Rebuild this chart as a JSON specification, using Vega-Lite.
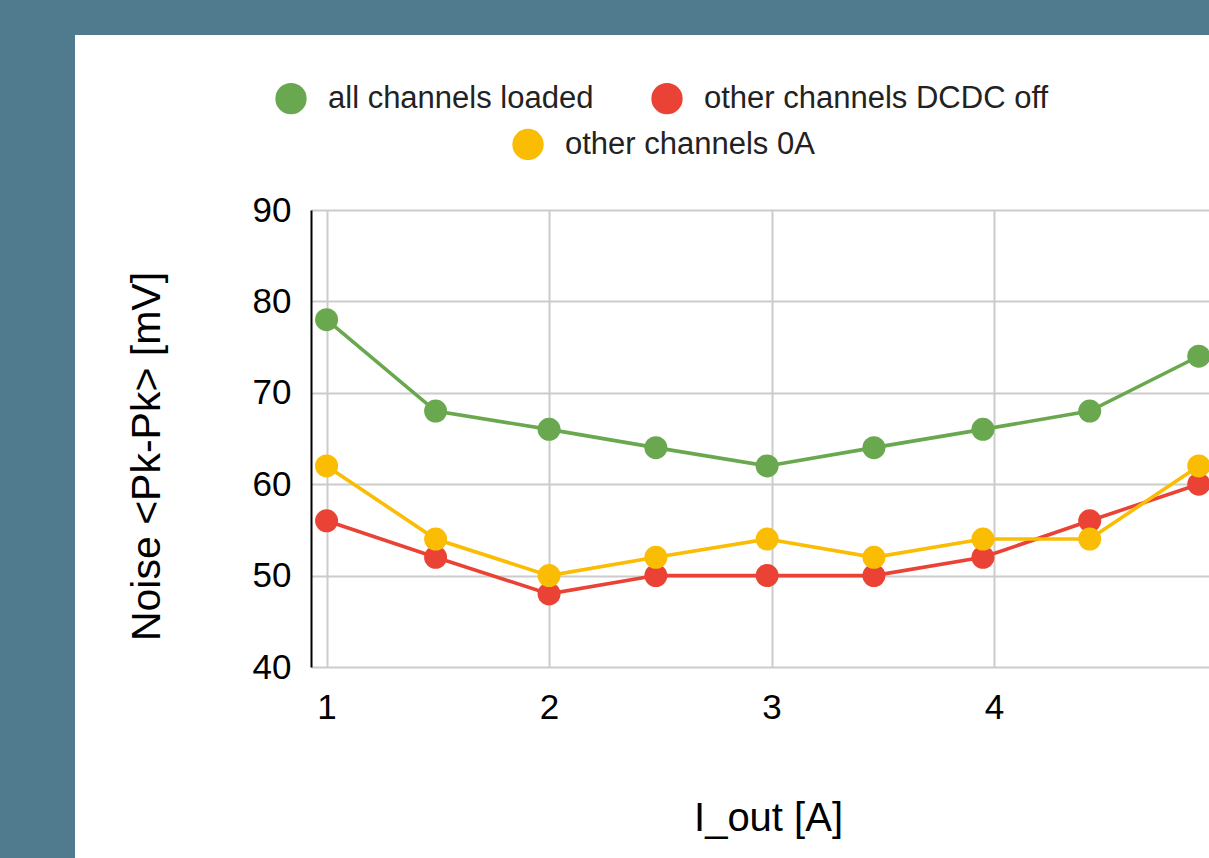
{
  "$schema": "https://vega.github.io/schema/vega-lite/v6.json",
  "width": 898,
  "height": 457,
  "autosize": {"type": "none"},
  "padding": {"left": 311, "top": 210, "right": 0, "bottom": 191},
  "background": "#ffffff",
  "config": {
    "view": {"stroke": null},
    "font": "Liberation Sans",
    "axis": {"labelFont": "Liberation Sans", "titleFont": "Liberation Sans"},
    "legend": {"labelFont": "Liberation Sans"}
  },
  "datasets": {
    "noise": [
      {"I": 1, "noise": 78, "series": "all channels loaded"},
      {"I": 1.49, "noise": 68, "series": "all channels loaded"},
      {"I": 2, "noise": 66, "series": "all channels loaded"},
      {"I": 2.48, "noise": 64, "series": "all channels loaded"},
      {"I": 2.98, "noise": 62, "series": "all channels loaded"},
      {"I": 3.46, "noise": 64, "series": "all channels loaded"},
      {"I": 3.95, "noise": 66, "series": "all channels loaded"},
      {"I": 4.43, "noise": 68, "series": "all channels loaded"},
      {"I": 4.92, "noise": 74, "series": "all channels loaded"},
      {"I": 1, "noise": 56, "series": "other channels DCDC off"},
      {"I": 1.49, "noise": 52, "series": "other channels DCDC off"},
      {"I": 2, "noise": 48, "series": "other channels DCDC off"},
      {"I": 2.48, "noise": 50, "series": "other channels DCDC off"},
      {"I": 2.98, "noise": 50, "series": "other channels DCDC off"},
      {"I": 3.46, "noise": 50, "series": "other channels DCDC off"},
      {"I": 3.95, "noise": 52, "series": "other channels DCDC off"},
      {"I": 4.43, "noise": 56, "series": "other channels DCDC off"},
      {"I": 4.92, "noise": 60, "series": "other channels DCDC off"},
      {"I": 1, "noise": 62, "series": "other channels 0A"},
      {"I": 1.49, "noise": 54, "series": "other channels 0A"},
      {"I": 2, "noise": 50, "series": "other channels 0A"},
      {"I": 2.48, "noise": 52, "series": "other channels 0A"},
      {"I": 2.98, "noise": 54, "series": "other channels 0A"},
      {"I": 3.46, "noise": 52, "series": "other channels 0A"},
      {"I": 3.95, "noise": 54, "series": "other channels 0A"},
      {"I": 4.43, "noise": 54, "series": "other channels 0A"},
      {"I": 4.92, "noise": 62, "series": "other channels 0A"}
    ]
  },
  "layer": [
    {
      "data": {"values": [{}]},
      "mark": {"type": "rect", "clip": false, "color": "#507A8D"},
      "encoding": {
        "x": {"datum": -1, "type": "quantitative", "scale": {"domain": [0.93, 4.966], "nice": false, "zero": false}},
        "x2": {"datum": -0.1307},
        "y": {"datum": 125, "type": "quantitative", "scale": {"domain": [40, 90], "nice": false, "zero": false}},
        "y2": {"datum": 5}
      }
    },
    {
      "data": {"values": [{}]},
      "mark": {"type": "rect", "clip": false, "color": "#507A8D"},
      "encoding": {
        "x": {"datum": -1, "type": "quantitative"},
        "x2": {"datum": 6},
        "y": {"datum": 125, "type": "quantitative"},
        "y2": {"datum": 109.15}
      }
    },
    {
      "data": {"name": "noise"},
      "mark": {"type": "line", "strokeWidth": 3.6},
      "encoding": {
        "x": {
          "field": "I", "type": "quantitative",
          "scale": {"domain": [0.93, 4.966], "nice": false, "zero": false},
          "axis": {
            "values": [1, 2, 3, 4, 5], "format": "d",
            "grid": true, "gridColor": "#cccccc", "gridWidth": 2,
            "domain": false, "ticks": false,
            "labelFontSize": 35, "labelColor": "#000000", "labelPadding": 23, "labelFlush": false,
            "title": "I_out [A]", "titleFontSize": 40, "titleFontWeight": "normal", "titleColor": "#000000",
            "titleX": 457, "titleY": 163, "titleBaseline": "alphabetic", "titleAlign": "center"
          }
        },
        "y": {
          "field": "noise", "type": "quantitative",
          "scale": {"domain": [40, 90], "nice": false, "zero": false},
          "axis": {
            "values": [40, 50, 60, 70, 80, 90],
            "grid": true, "gridColor": "#cccccc", "gridWidth": 2,
            "domain": true, "domainColor": "#000000", "domainWidth": 2,
            "ticks": false,
            "labelFontSize": 35, "labelColor": "#000000", "labelPadding": 20,
            "title": "Noise <Pk-Pk> [mV]", "titleFontSize": 41, "titleFontWeight": "normal", "titleColor": "#000000",
            "titleAngle": -90, "titleX": -152, "titleY": 246, "titleBaseline": "alphabetic", "titleAlign": "center"
          }
        },
        "stroke": {
          "field": "series", "type": "nominal",
          "scale": {"domain": ["other channels 0A", "all channels loaded", "other channels DCDC off"], "range": ["#FBBC04", "#6AA84F", "#EA4335"]},
          "legend": {
            "orient": "none", "legendX": 201, "legendY": -81.5,
            "direction": "horizontal", "title": null,
            "values": ["other channels 0A"],
            "symbolType": "circle", "symbolSize": 980,
            "symbolFillColor": "#FBBC04", "symbolStrokeWidth": 0,
            "labelFontSize": 31, "labelColor": "#222222", "labelOffset": 21, "labelLimit": 600, "padding": 0
          }
        },
        "order": {"field": "I", "type": "quantitative"}
      }
    },
    {
      "data": {"name": "noise"},
      "mark": {"type": "point", "filled": true, "size": 529, "opacity": 1, "strokeWidth": 0},
      "encoding": {
        "x": {"field": "I", "type": "quantitative"},
        "y": {"field": "noise", "type": "quantitative"},
        "fill": {
          "field": "series", "type": "nominal",
          "scale": {"domain": ["all channels loaded", "other channels DCDC off", "other channels 0A"], "range": ["#6AA84F", "#EA4335", "#FBBC04"]},
          "legend": {
            "orient": "none", "legendX": -36, "legendY": -127.5,
            "direction": "horizontal", "title": null,
            "values": ["all channels loaded", "other channels DCDC off"],
            "symbolType": "circle", "symbolSize": 980, "symbolStrokeWidth": 0,
            "labelFontSize": 31, "labelColor": "#222222", "labelOffset": 21, "labelLimit": 600,
            "columnPadding": 57, "padding": 0
          }
        }
      }
    }
  ]
}
